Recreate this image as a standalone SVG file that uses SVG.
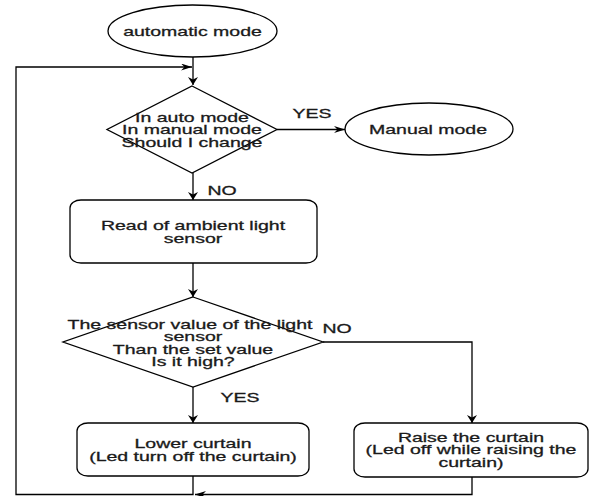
<svg xmlns="http://www.w3.org/2000/svg" width="590" height="496" viewBox="0 0 590 496">
<style>
.s{fill:#fff;stroke:#000;stroke-width:1.3}
.e{fill:none;stroke:#000;stroke-width:1.3}
.t{font-family:"Liberation Sans",Arial,Helvetica,sans-serif;font-size:13px;fill:#1a1a1a;stroke:#1a1a1a;stroke-width:0.3;text-anchor:middle}
</style>
<defs>
<marker id="av" markerWidth="8" markerHeight="10" refX="8" refY="5" orient="auto" markerUnits="userSpaceOnUse" viewBox="0 0 8 10"><path d="M0,0 L8,5 L0,10 L2.5,5 Z" fill="#000"/></marker>
<marker id="ah" markerWidth="11" markerHeight="7" refX="11" refY="3.5" orient="auto" markerUnits="userSpaceOnUse" viewBox="0 0 11 7"><path d="M0,0 L11,3.5 L0,7 L3.5,3.5 Z" fill="#000"/></marker>
</defs>
<rect width="590" height="496" fill="#fff"/>
<g id="connectors">
<path class="e" d="M193 57 V85" marker-end="url(#av)"/>
<path class="e" d="M277 129.5 H345" marker-end="url(#ah)"/>
<path class="e" d="M193 173 V200" marker-end="url(#av)"/>
<path class="e" d="M193 263 V297" marker-end="url(#av)"/>
<path class="e" d="M323 342 H472 V423" marker-end="url(#av)"/>
<path class="e" d="M193 387 V423" marker-end="url(#av)"/>
<path class="e" d="M193 476 V494.5 H16 V67 H192" marker-end="url(#ah)"/>
<path class="e" d="M472 477 V494.5 H195" marker-end="url(#ah)"/>
<g id="labels">
<text class="t" transform="translate(312 118) scale(1.5 1)">YES</text>
<text class="t" transform="translate(222 195) scale(1.5 1)">NO</text>
<text class="t" transform="translate(337 333) scale(1.5 1)">NO</text>
<text class="t" transform="translate(240 402) scale(1.5 1)">YES</text>
</g>
</g>
<g id="automatic-mode">
<ellipse class="s" cx="192.5" cy="31" rx="84.5" ry="26"/>
<text class="t" transform="translate(192.5 36) scale(1.5 1)">automatic mode</text>
</g>
<g id="mode-check">
<polygon class="s" points="192,86 277,129.5 192,173 107,129.5"/>
<text class="t" transform="translate(192 121.5) scale(1.5 1)">In auto mode</text>
<text class="t" transform="translate(192 134) scale(1.5 1)">In manual mode</text>
<text class="t" transform="translate(192 146.5) scale(1.5 1)">Should I change</text>
</g>
<g id="manual-mode">
<ellipse class="s" cx="429" cy="129" rx="84" ry="26"/>
<text class="t" transform="translate(428 133.5) scale(1.5 1)">Manual mode</text>
</g>
<g id="read-sensor">
<rect class="s" x="70" y="200" width="247" height="63" rx="11" ry="8"/>
<text class="t" transform="translate(193 229.5) scale(1.5 1)">Read of ambient light</text>
<text class="t" transform="translate(193 242.5) scale(1.5 1)">sensor</text>
</g>
<g id="sensor-check">
<polygon class="s" points="193,297 323,342 193,387 63,342"/>
<text class="t" transform="translate(190 328.5) scale(1.5 1)">The sensor value of the light</text>
<text class="t" transform="translate(193 341) scale(1.5 1)">sensor</text>
<text class="t" transform="translate(193 353.5) scale(1.5 1)">Than the set value</text>
<text class="t" transform="translate(193 366) scale(1.5 1)">Is it high?</text>
</g>
<g id="lower-curtain">
<rect class="s" x="77" y="423" width="232" height="53" rx="11" ry="8"/>
<text class="t" transform="translate(193 447.5) scale(1.5 1)">Lower curtain</text>
<text class="t" transform="translate(193 460.5) scale(1.5 1)">(Led turn off the curtain)</text>
</g>
<g id="raise-curtain">
<rect class="s" x="354" y="423" width="234" height="54" rx="11" ry="8"/>
<text class="t" transform="translate(471 441.5) scale(1.5 1)">Raise the curtain</text>
<text class="t" transform="translate(471 454) scale(1.5 1)">(Led off while raising the</text>
<text class="t" transform="translate(471 466.5) scale(1.5 1)">curtain)</text>
</g>
</svg>
